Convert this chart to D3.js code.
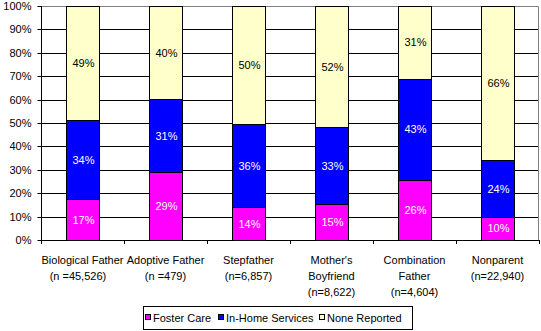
<!DOCTYPE html>
<html><head><meta charset="utf-8">
<script src="https://cdn.jsdelivr.net/npm/d3@7"></script>
<style>body{margin:0;background:#fff}svg{display:block;font-family:Arial,"Liberation Sans",sans-serif}</style>
</head><body><svg id="c" width="541" height="331"></svg>
<script>
const categories = [
  ["Biological Father", "(n =45,526)\u00a0\u00a0\u00a0"],
  ["Adoptive Father", "(n =479)"],
  ["Stepfather", "(n=6,857)"],
  ["Mother's", "Boyfriend", "(n=8,622)"],
  ["Combination", "Father", "(n=4,604)"],
  ["Nonparent", "(n=22,940)"]
];
const seriesNames = ["Foster Care", "In-Home Services", "None Reported"];
const fosterCare = [17.4, 29, 14, 15.3, 25.5, 10];
const inHome = [33.9, 31.2, 35.5, 32.9, 43.5, 24];
const noneReported = [48.7, 39.8, 50.5, 51.8, 31, 66];
const labelsFoster = ["17%", "29%", "14%", "15%", "26%", "10%"];
const labelsInHome = ["34%", "31%", "36%", "33%", "43%", "24%"];
const labelsNone = ["49%", "40%", "50%", "52%", "31%", "66%"];
const yTicks = [0,10,20,30,40,50,60,70,80,90,100];
const colors = ["#FF00FF", "#0000FF", "#FFFFCC"];
const textColors = ["#fff", "#fff", "#000"];

const svg = d3.select("#c");
const L = 41, R = 539, T = 6, B = 240;
const idx = d3.range(categories.length);
const x = d3.scaleBand().domain(idx).range([L, R]).paddingInner(0.6).paddingOuter(0.3);
const xb = d3.scaleBand().domain(idx).range([L, R]);
const y = d3.scaleLinear().domain([0, 100]).range([B, T]);

// gridlines
svg.append("g").selectAll("line").data(yTicks.slice(1, -1)).join("line")
  .attr("x1", L).attr("x2", R).attr("y1", d => Math.round(y(d)) + 0.5).attr("y2", d => Math.round(y(d)) + 0.5)
  .attr("stroke", "#000").attr("stroke-width", 1);
// plot border top/right gray
svg.append("path").attr("d", `M${L},${T+0.5}H${R-0.5}V${B}`).attr("fill", "none").attr("stroke", "#808080");

// stacked bars
const labels = [labelsFoster, labelsInHome, labelsNone];
const stackData = idx.map(i => ({i, f: fosterCare[i], h: inHome[i], n: noneReported[i]}));
const stack = d3.stack().keys(["f", "h", "n"])(stackData);
stack.forEach((layer, k) => {
  const g = svg.append("g");
  g.selectAll("rect").data(layer).join("rect")
    .attr("x", d => Math.round(x(d.data.i)) + 0.5)
    .attr("width", Math.round(x.bandwidth()))
    .attr("y", d => Math.round(y(d[1])) + 0.5)
    .attr("height", d => Math.round(y(d[0])) - Math.round(y(d[1])))
    .attr("fill", colors[k]).attr("stroke", "#000").attr("stroke-width", 1);
  g.selectAll("text").data(layer).join("text")
    .attr("x", d => x(d.data.i) + x.bandwidth() / 2 + 1)
    .attr("y", d => y((d[0] + d[1]) / 2) + 4)
    .attr("text-anchor", "middle").attr("font-size", 11).attr("fill", textColors[k])
    .text((d, j) => labels[k][j]);
});

// y axis
const ya = svg.append("g").attr("transform", `translate(${L + 0.5},0)`)
  .call(d3.axisLeft(y).tickValues(yTicks).tickFormat(d => d + "%").tickSize(4).tickPadding(6));
ya.select(".domain").remove();
svg.append("line").attr("x1", L + 0.5).attr("x2", L + 0.5).attr("y1", T).attr("y2", B + 1).attr("stroke", "#000");
ya.selectAll(".tick line").attr("stroke", "#000");
ya.selectAll(".tick").attr("transform", d => `translate(0,${Math.round(y(d)) + 0.5})`);
ya.selectAll("text").attr("font-size", 11).attr("font-family", "Arial, 'Liberation Sans', sans-serif").attr("fill", "#000").attr("dy", "0.35em");

// x axis
svg.append("line").attr("x1", L).attr("x2", R).attr("y1", B + 0.5).attr("y2", B + 0.5).attr("stroke", "#000");
svg.append("g").selectAll("line").data(d3.range(categories.length + 1)).join("line")
  .attr("x1", i => Math.round(L + i * xb.step()) + 0.5).attr("x2", i => Math.round(L + i * xb.step()) + 0.5)
  .attr("y1", B).attr("y2", B + 4).attr("stroke", "#000");
const xl = svg.append("g");
categories.forEach((lines, i) => {
  const t = xl.append("text").attr("x", xb(i) + xb.bandwidth() / 2).attr("y", 264)
    .attr("text-anchor", "middle").attr("font-size", 11).attr("fill", "#000")
    .style("white-space", "pre");
  lines.forEach((s, j) => t.append("tspan").attr("x", xb(i) + xb.bandwidth() / 2).attr("dy", j ? 16 : 0).text(s));
});

// legend
const lg = svg.append("g");
lg.append("rect").attr("x", 143.5).attr("y", 306.5).attr("width", 269).attr("height", 23)
  .attr("fill", "#fff").attr("stroke", "#000");
const lx = [145, 218, 319];
seriesNames.forEach((n, k) => {
  lg.append("rect").attr("x", lx[k] + 0.5).attr("y", 314.5).attr("width", 5).attr("height", 5)
    .attr("fill", colors[k]).attr("stroke", "#000");
  lg.append("text").attr("x", lx[k] + 8).attr("y", 322).attr("font-size", 11).attr("fill", "#000").text(n);
});
</script></body></html>
